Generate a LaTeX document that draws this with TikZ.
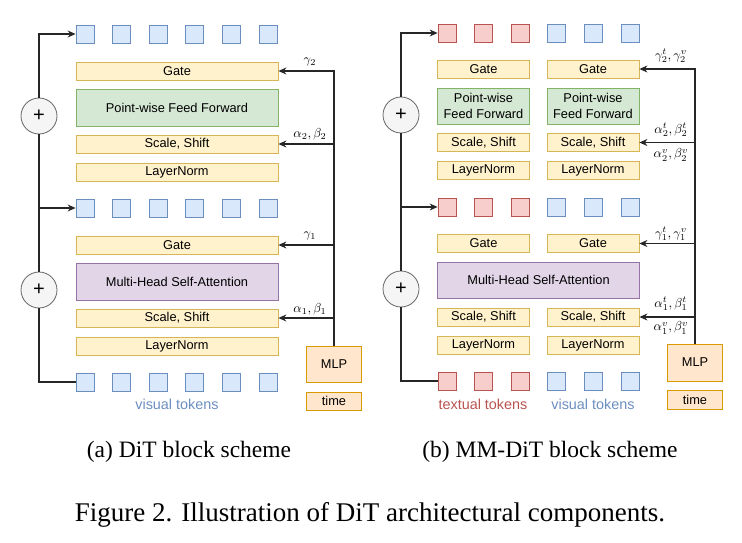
\documentclass[tikz,border=0pt]{standalone}
\usepackage{fontspec}
\newfontfamily\boxfont{Liberation Sans}
\newfontfamily\capfont{Liberation Serif}
\usetikzlibrary{arrows.meta}
\definecolor{yelfill}{HTML}{FFF2CC}
\definecolor{yeldraw}{HTML}{D6B656}
\definecolor{grnfill}{HTML}{D5E8D4}
\definecolor{grndraw}{HTML}{82B366}
\definecolor{purfill}{HTML}{E1D5E7}
\definecolor{purdraw}{HTML}{9673A6}
\definecolor{blufill}{HTML}{DAE8FC}
\definecolor{bludraw}{HTML}{6C8EBF}
\definecolor{redfill}{HTML}{F8CECC}
\definecolor{reddraw}{HTML}{B85450}
\definecolor{orgfill}{HTML}{FFE6CC}
\definecolor{orgdraw}{HTML}{D79B00}
\tikzset{
	boxtxt/.style={font=\boxfont\fontsize{12.8}{15.5}\selectfont},
	ybox/.style={boxtxt, draw=yeldraw, fill=yelfill, line width=0.8pt, inner sep=0pt, minimum height=18pt},
	gbox/.style={boxtxt, draw=grndraw, fill=grnfill, line width=0.8pt, inner sep=0pt, minimum height=37pt, align=center},
	pbox/.style={boxtxt, draw=purdraw, fill=purfill, line width=0.8pt, inner sep=0pt, minimum height=37pt},
	obox/.style={boxtxt, draw=orgdraw, fill=orgfill, line width=0.8pt, inner sep=0pt, minimum width=55pt},
	btok/.style={draw=bludraw, fill=blufill, line width=0.8pt, minimum size=18pt, inner sep=0pt},
	rtok/.style={draw=reddraw, fill=redfill, line width=0.8pt, minimum size=18pt, inner sep=0pt},
	plus/.style={circle, draw=black!60, fill=black!4, line width=0.8pt, minimum size=36pt, inner sep=0pt, font=\boxfont\fontsize{20}{20}\selectfont},
	lbl/.style={scale=1.3, inner sep=0pt},
	tlbl/.style={font=\boxfont\fontsize{14.4}{16}\selectfont, inner sep=0pt},
	wire/.style={line width=1.1pt, black!85},
	arr/.style={wire, -{Stealth[length=8pt,width=7pt]}},
}

\begin{document}
\begin{tikzpicture}[x=1pt,y=-1pt]
	\useasboundingbox (0,0) rectangle (742,543);
	
	% (a) DiT block
	\foreach \i [count=\n] in {0,...,5} {
		\node[btok] (aout\n) at ({85+36.6*\i},34) {};
		\node[btok] (amid\n) at ({85+36.6*\i},208) {};
		\node[btok] (ain\n) at ({85+36.6*\i},382) {};
	}
	\node[ybox, minimum width=202pt] (agate2) at (177,71) {Gate};
	\node[gbox, minimum width=202pt] (affn) at (177,107.5) {Point-wise Feed Forward};
	\node[ybox, minimum width=202pt] (ass2) at (177,144) {Scale, Shift};
	\node[ybox, minimum width=202pt] (aln2) at (177,172) {LayerNorm};
	\node[ybox, minimum width=202pt] (agate1) at (177,245) {Gate};
	\node[pbox, minimum width=202pt] (aattn) at (177,281.5) {Multi-Head Self-Attention};
	\node[ybox, minimum width=202pt] (ass1) at (177,318) {Scale, Shift};
	\node[ybox, minimum width=202pt] (aln1) at (177,346) {LayerNorm};
	\node[tlbl, text=bludraw] (avis) at (177,404) {visual tokens};
	\node[obox, minimum height=36pt] (amlp) at (334,364) {MLP};
	\node[obox, minimum height=18pt] (atime) at (334,401) {time};
	\node[plus] (aplus2) at (39,116) {+};
	\node[plus] (aplus1) at (39,290) {+};
	
	\draw[arr] (amlp.north) |- (agate2.east);
	\draw[arr] (amlp.north |- ass2.east) -- (ass2.east);
	\draw[arr] (amlp.north |- agate1.east) -- (agate1.east);
	\draw[arr] (amlp.north |- ass1.east) -- (ass1.east);
	\node[lbl] (agam2) at (310,62) {$\gamma_2$};
	\node[lbl] (aab2) at (310,134) {$\alpha_2,\beta_2$};
	\node[lbl] (agam1) at (310,236) {$\gamma_1$};
	\node[lbl] (aab1) at (310,309) {$\alpha_1,\beta_1$};
	
	\draw[wire] (ain1.west) -| (aplus1.south);
	\draw[arr] (aplus1.north) |- (amid1.west);
	\draw[wire] (aplus1.north) -- (aplus2.south);
	\draw[arr] (aplus2.north) |- (aout1.west);
	
	% (b) MM-DiT block
	\foreach \i [count=\n] in {0,...,2} {
		\node[rtok] (bout\n) at ({447+36.6*\i},33) {};
		\node[rtok] (bmid\n) at ({447+36.6*\i},207) {};
		\node[rtok] (bin\n) at ({447+36.6*\i},381) {};
	}
	\foreach \i [count=\n from 4] in {3,...,5} {
		\node[btok] (bout\n) at ({447+36.6*\i},33) {};
		\node[btok] (bmid\n) at ({447+36.6*\i},207) {};
		\node[btok] (bin\n) at ({447+36.6*\i},381) {};
	}
	\node[ybox, minimum width=92pt] (btgate2) at (483.5,69) {Gate};
	\node[gbox, minimum width=92pt, minimum height=36pt] (btffn) at (483.5,106) {Point-wise\\Feed Forward};
	\node[ybox, minimum width=92pt] (btss2) at (483.5,142.5) {Scale, Shift};
	\node[ybox, minimum width=92pt] (btln2) at (483.5,170) {LayerNorm};
	\node[ybox, minimum width=92pt] (bvgate2) at (593,69) {Gate};
	\node[gbox, minimum width=92pt, minimum height=36pt] (bvffn) at (593,106) {Point-wise\\Feed Forward};
	\node[ybox, minimum width=92pt] (bvss2) at (593,142.5) {Scale, Shift};
	\node[ybox, minimum width=92pt] (bvln2) at (593,170) {LayerNorm};
	\node[ybox, minimum width=92pt] (btgate1) at (483.5,243.5) {Gate};
	\node[ybox, minimum width=92pt] (bvgate1) at (593,243.5) {Gate};
	\node[pbox, minimum width=201.5pt, minimum height=36pt] (battn) at (538.5,280) {Multi-Head Self-Attention};
	\node[ybox, minimum width=92pt] (btss1) at (483.5,317) {Scale, Shift};
	\node[ybox, minimum width=92pt] (btln1) at (483.5,345) {LayerNorm};
	\node[ybox, minimum width=92pt] (bvss1) at (593,317) {Scale, Shift};
	\node[ybox, minimum width=92pt] (bvln1) at (593,345) {LayerNorm};
	\node[tlbl, text=reddraw] (btxt) at (483,404) {textual tokens};
	\node[tlbl, text=bludraw] (bvis) at (593,404) {visual tokens};
	\node[obox, minimum height=37pt] (bmlp) at (695,362.5) {MLP};
	\node[obox, minimum height=19pt] (btime) at (695,399.5) {time};
	\node[plus] (bplus2) at (401,115) {+};
	\node[plus] (bplus1) at (401,289) {+};
	
	\draw[arr] (bmlp.north) |- (bvgate2.east);
	\draw[arr] (bmlp.north |- bvss2.east) -- (bvss2.east);
	\draw[arr] (bmlp.north |- bvgate1.east) -- (bvgate1.east);
	\draw[arr] (bmlp.north |- bvss1.east) -- (bvss1.east);
	\node[lbl] (bgam2) at (671,56) {$\gamma_2^t,\gamma_2^v$};
	\node[lbl] (babt2) at (671,130) {$\alpha_2^t,\beta_2^t$};
	\node[lbl] (babv2) at (671,155) {$\alpha_2^v,\beta_2^v$};
	\node[lbl] (bgam1) at (671,234) {$\gamma_1^t,\gamma_1^v$};
	\node[lbl] (babt1) at (671,304) {$\alpha_1^t,\beta_1^t$};
	\node[lbl] (babv1) at (671,328) {$\alpha_1^v,\beta_1^v$};
	
	\draw[wire] (bin1.west) -| (bplus1.south);
	\draw[arr] (bplus1.north) |- (bmid1.west);
	\draw[wire] (bplus1.north) -- (bplus2.south);
	\draw[arr] (bplus2.north) |- (bout1.west);
	
	% captions
	\node[font=\capfont\fontsize{23.5}{26}\selectfont] (capa) at (189,452) {(a) DiT block scheme};
	\node[font=\capfont\fontsize{23.5}{26}\selectfont] (capb) at (550,452) {(b) MM-DiT block scheme};
	\node[font=\capfont\fontsize{27}{30}\selectfont] (capfig) at (370,515) {Figure 2. Illustration of DiT architectural components.};
\end{tikzpicture}
\end{document}
